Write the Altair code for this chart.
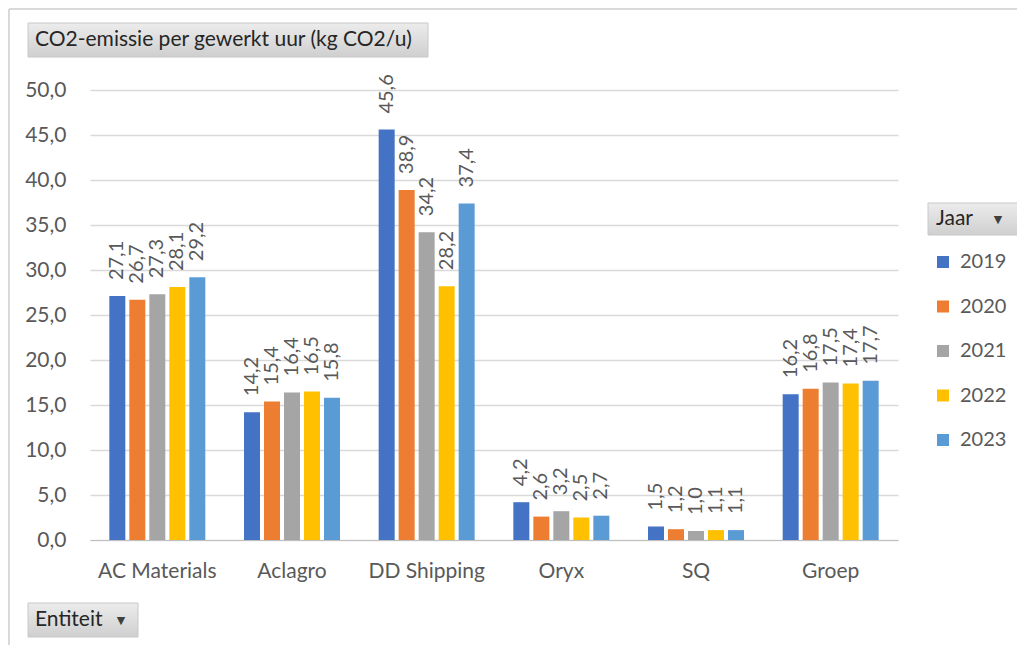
import altair as alt
import pandas as pd

entities = ["AC Materials", "Aclagro", "DD Shipping", "Oryx", "SQ", "Groep"]
years = ["2019", "2020", "2021", "2022", "2023"]
v2019 = [27.1, 14.2, 45.6, 4.2, 1.5, 16.2]
v2020 = [26.7, 15.4, 38.9, 2.6, 1.2, 16.8]
v2021 = [27.3, 16.4, 34.2, 3.2, 1.0, 17.5]
v2022 = [28.1, 16.5, 28.2, 2.5, 1.1, 17.4]
v2023 = [29.2, 15.8, 37.4, 2.7, 1.1, 17.7]
colors = ["#4472C4", "#ED7D31", "#A5A5A5", "#FFC000", "#5B9BD5"]
y_ticks = [0, 5, 10, 15, 20, 25, 30, 35, 40, 45, 50]

rows = []
for yr, vals in zip(years, [v2019, v2020, v2021, v2022, v2023]):
    for ent, v in zip(entities, vals):
        rows.append({"Entiteit": ent, "Jaar": yr, "Waarde": v})
df = pd.DataFrame(rows)

FONT = "Lato"
FS = 21
GREY = "#595959"
W, H = 808, 450

base = alt.Chart(df).transform_calculate(
    label="replace(format(datum.Waarde, '.1f'), '.', ',')"
)

x_enc = alt.X("Entiteit:N", sort=entities,
              scale=alt.Scale(paddingInner=0.2575, paddingOuter=0.1287),
              axis=alt.Axis(title=None, labelAngle=0, labelFont=FONT, labelFontSize=FS,
                            labelColor=GREY, labelPadding=20, ticks=False,
                            domainColor="#bfbfbf", domainWidth=1.2, grid=False))
y_enc = alt.Y("Waarde:Q", scale=alt.Scale(domain=[0, 50], nice=False),
              axis=alt.Axis(title=None, values=y_ticks, format=".1f",
                            labelExpr="replace(format(datum.value, '.1f'), '.', ',')",
                            labelFont=FONT, labelFontSize=FS, labelColor=GREY,
                            labelPadding=24, ticks=False, domain=False,
                            gridColor="#d9d9d9", gridWidth=1.3))
xo = alt.XOffset("Jaar:N", sort=years, scale=alt.Scale(paddingInner=0.2, paddingOuter=0.1))

bars = base.mark_bar().encode(
    x=x_enc, y=y_enc, xOffset=xo,
    color=alt.Color("Jaar:N", sort=years, scale=alt.Scale(domain=years, range=colors),
                    legend=alt.Legend(title=None, orient="none", legendX=843, legendY=162,
                                      symbolType="square", symbolSize=144, symbolStrokeWidth=0,
                                      labelFont=FONT, labelFontSize=20, labelColor=GREY,
                                      labelOffset=7, rowPadding=24.5, padding=0)),
)

labels = base.mark_text(angle=270, align="left", baseline="middle", dx=16,
                        font=FONT, fontSize=20, color=GREY).encode(
    x=x_enc, y=y_enc, xOffset=xo, text="label:N"
)

one = pd.DataFrame({"a": [0]})
grad = alt.Gradient(gradient="linear", x1=0, y1=0, x2=0, y2=1,
                    stops=[alt.GradientStop(color="#ececec", offset=0),
                           alt.GradientStop(color="#cfcfcf", offset=1)])

def button(x0, x1, y0, y1):
    return alt.Chart(one).mark_rect(fill=grad, stroke="#c8c8c8", strokeWidth=1).encode(
        x=alt.value(x0), x2=alt.value(x1), y=alt.value(y0), y2=alt.value(y1))

def label(txt, x, y, size=FS, font=FONT, color="#262626", align="left"):
    return alt.Chart(one).mark_text(text=txt, font=font, fontSize=size, color=color,
                                    align=align, baseline="middle").encode(
        x=alt.value(x), y=alt.value(y))

border_v = alt.Chart(one).mark_rule(color="#d9d9d9", strokeWidth=2).encode(
    x=alt.value(-81), y=alt.value(-81), y2=alt.value(560))
border_h = alt.Chart(one).mark_rule(color="#d9d9d9", strokeWidth=2).encode(
    x=alt.value(-81), x2=alt.value(940), y=alt.value(-81))

decor = [
    border_v, border_h,
    button(-62, 338, -67, -33),
    label("CO2-emissie per gewerkt uur (kg CO2/u)", -55, -50),
    button(838, 928, 113, 145),
    label("Jaar", 846, 129),
    label("▼", 908, 130, size=11, font="DejaVu Sans", color="#404040", align="center"),
    button(-62, 48, 513, 547),
    label("Entiteit", -55, 530),
    label("▼", 31, 531, size=11, font="DejaVu Sans", color="#404040", align="center"),
]

chart = alt.layer(bars, labels, *decor).properties(
    width=W, height=H,
    background="white",
    autosize=alt.AutoSizeParams(type="none"),
    padding={"left": 82, "top": 82, "right": 119, "bottom": 105},
).configure_view(strokeWidth=0)

chart.save("out.html", embed_options={"renderer": "svg", "actions": False})
